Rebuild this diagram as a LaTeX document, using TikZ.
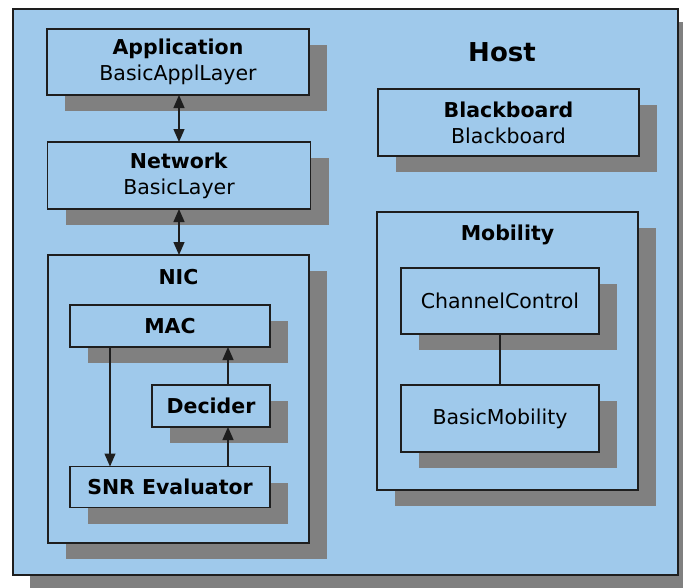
\documentclass[tikz,border=0pt]{standalone}
\usepackage{fontspec}
\setmainfont{DejaVu Sans}
\usetikzlibrary{arrows.meta,shadows}
\definecolor{boxblue}{HTML}{9FC9EB}
\definecolor{shadowgray}{HTML}{808080}
\definecolor{edge}{HTML}{1E1E1E}
\begin{document}
\begin{tikzpicture}[x=1pt,y=-1pt,
  box/.style={draw=edge, line width=1.3pt, fill=boxblue, inner sep=0pt, outer sep=0pt,
    align=center, font=\fontsize{20.5}{26}\selectfont,
    drop shadow={shadow xshift=18pt, shadow yshift=-16pt, fill=shadowgray, opacity=1, draw=none}},
  title/.style={font=\fontsize{20.5}{24}\selectfont\bfseries, inner sep=0pt},
  arr/.style={draw=edge, line width=1.3pt, -{Triangle[length=13pt,width=11pt]}},
  darr/.style={draw=edge, line width=1.3pt, {Triangle[length=13pt,width=11pt]}-{Triangle[length=13pt,width=11pt]}},
  plain/.style={draw=edge, line width=1.3pt}
]
\useasboundingbox (0,0) rectangle (683,587);
\clip (0,0) rectangle (683,587);
\fill[white] (0,0) rectangle (683,587);

% Host
\node[box, minimum width=665pt, minimum height=566pt,
  drop shadow={shadow xshift=17pt, shadow yshift=-13pt, fill=shadowgray, opacity=1, draw=none}] (host) at (345.5,292) {};
\node[font=\fontsize{26}{30}\selectfont\bfseries, inner sep=0pt] (hosttitle) at (502,52) {Host};

% Left column
\node[box, minimum width=262pt, minimum height=66pt] (app) at (178,62) {\textbf{Application}\\BasicApplLayer};
\node[box, minimum width=263pt, minimum height=67pt] (net) at (179,175.5) {\textbf{Network}\\BasicLayer};
\node[box, minimum width=261pt, minimum height=288pt] (nic) at (178.5,399) {};
\node[title] (nictitle) at (178.5,277) {NIC};
\node[box, minimum width=200pt, minimum height=42pt] (mac) at (170,326) {\textbf{MAC}};
\node[box, minimum width=118pt, minimum height=42pt] (dec) at (211,406) {\textbf{Decider}};
\node[box, minimum width=200pt, minimum height=41pt] (snr) at (170,487) {\textbf{SNR Evaluator}};

% Right column
\node[box, minimum width=261pt, minimum height=67pt] (bb) at (508.5,122.5) {\textbf{Blackboard}\\Blackboard};
\node[box, minimum width=261pt, minimum height=278pt] (mob) at (507.5,351) {};
\node[title] (mobtitle) at (507.5,235) {Mobility};
\node[box, minimum width=198pt, minimum height=66pt] (cc) at (500,301) {ChannelControl};
\node[box, minimum width=198pt, minimum height=67pt] (bm) at (500,418.5) {BasicMobility};

% Connectors
\draw[darr] ([xshift=1pt]app.south) -- ([xshift=1pt]app.south |- net.north);
\draw[darr] (net.south) -- (net.south |- nic.north);
\draw[arr] ([xshift=-60pt]mac.south) -- ([xshift=-60pt]snr.north);
\draw[arr] ([xshift=58pt]snr.north) -- ([xshift=58pt]snr.north |- dec.south);
\draw[arr] ([xshift=17pt]dec.north) -- ([xshift=17pt]dec.north |- mac.south);
\draw[plain] (cc.south) -- (bm.north);
\end{tikzpicture}
\end{document}
